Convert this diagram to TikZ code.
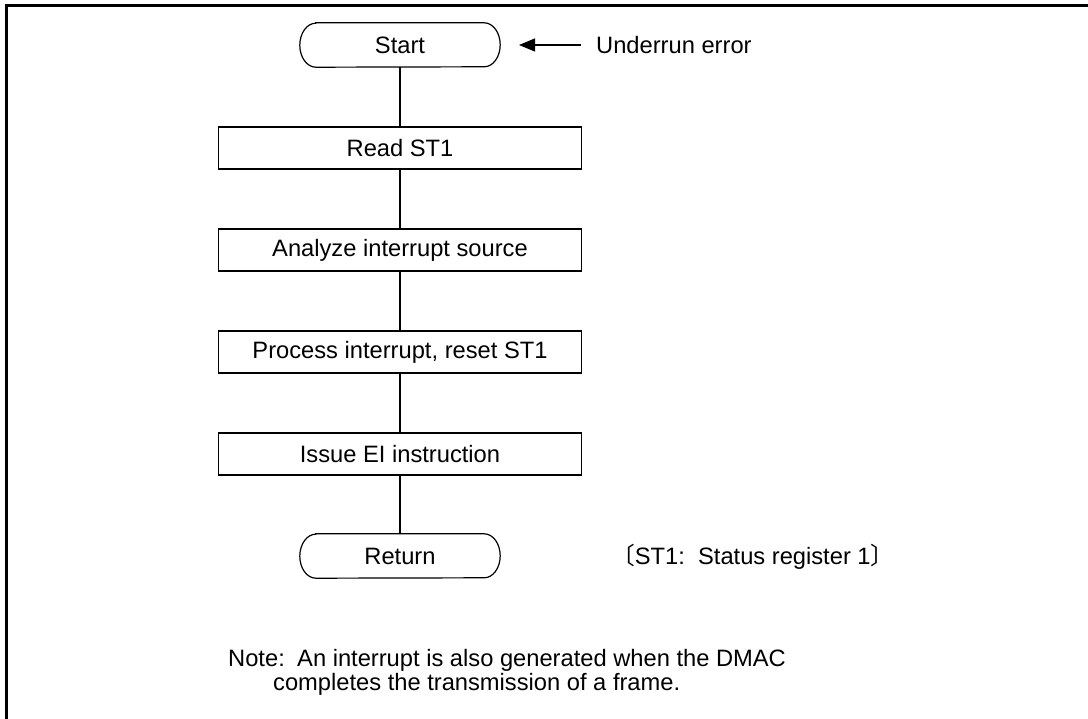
\documentclass[tikz,border=0pt]{standalone}
\usepackage{fontspec}
\setmainfont{Liberation Sans}
\newfontfamily\cjk{Noto Sans CJK JP}
\usetikzlibrary{arrows.meta}
\tikzset{
  txt/.style={font=\fontsize{23.7}{28}\selectfont, inner sep=0pt},
  procbox/.style={draw, line width=1.2pt, minimum width=363pt, minimum height=42pt, txt},
  termbox/.style={minimum width=200pt, minimum height=44pt, txt},
  outline/.style={line width=1.2pt},
  flow/.style={line width=1.2pt},
  frame/.style={line width=3pt},
}
\newcommand{\terminalshape}[1]{%
  \draw[outline] ([xshift=16pt]#1.north west) -- ([xshift=-16pt]#1.north east)
    arc[start angle=90, end angle=-90, x radius=16pt, y radius=22pt]
    -- ([xshift=16pt]#1.south west)
    arc[start angle=270, end angle=90, x radius=16pt, y radius=22pt] -- cycle;}
\begin{document}
\begin{tikzpicture}[x=1pt,y=-1pt]
\useasboundingbox (0,0) rectangle (1088,719);
\draw[frame] (1088,5.5) -- (6.5,5.5) -- (6.5,719);
\node[termbox] (start) at (400,45) {Start};
\terminalshape{start}
\node[procbox] (read) at (400,148) {Read ST1};
\node[procbox] (analyze) at (400,250) {Analyze interrupt source};
\node[procbox] (process) at (400,352) {Process interrupt, reset ST1};
\node[procbox] (issue) at (400,454) {Issue EI instruction};
\node[termbox] (ret) at (400,556) {Return};
\terminalshape{ret}
\draw[flow] (start) -- (read);
\draw[flow] (read) -- (analyze);
\draw[flow] (analyze) -- (process);
\draw[flow] (process) -- (issue);
\draw[flow] (issue) -- (ret);
\node[txt, anchor=west] (ue) at (596,45) {Underrun error};
\coordinate (uetail) at (581,45);
\coordinate (uetip) at (519,45);
\draw[flow, -{Triangle[length=16pt,width=13pt]}] (uetail) -- (uetip);
\node[txt, anchor=base west] (st1) at (611,564.5) {{\cjk 〔}ST1:\ \ Status register 1{\cjk 〕}};
\node[txt, anchor=base west] (note) at (228,666.5) {Note:};
\node[txt, anchor=base west] (note1) at (297,666.5) {An interrupt is also generated when the DMAC};
\node[txt, anchor=base west] (note2) at (273,690.5) {completes the transmission of a frame.};
\end{tikzpicture}
\end{document}
